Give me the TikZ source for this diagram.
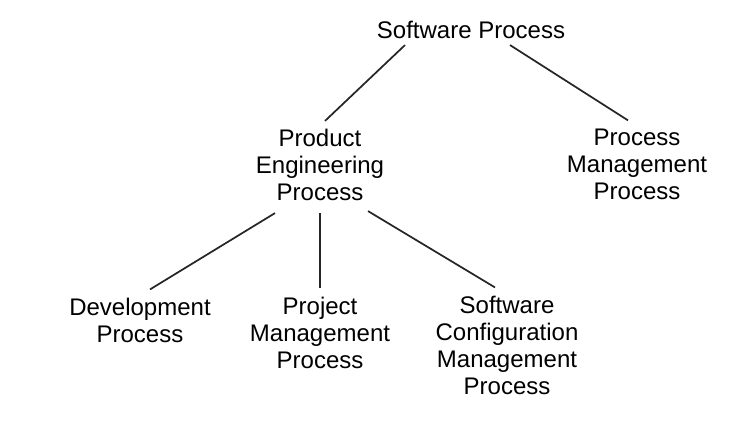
\documentclass[tikz,border=0pt]{standalone}
\usepackage{fontspec}
\setmainfont{Liberation Sans}
\usetikzlibrary{calc}

\begin{document}
\begin{tikzpicture}[x=0.75pt, y=-0.75pt,
    proc/.style={align=center, font=\fontsize{18}{20.25}\selectfont, inner sep=3pt},
    branch/.style={line width=1.3pt, black!85}]
  % Canvas, in pixels of the 748 x 440 page.
  \useasboundingbox (0,0) rectangle (748,440);
  % Root and first level.
  \node[proc] (sp)  at (471,30)  {Software Process};
  \node[proc] (pep) at (320,165) {Product\\Engineering\\Process};
  \node[proc] (pmp) at (637,164) {Process\\Management\\Process};
  % Second level, under product engineering.
  \node[proc] (dev) at (140,320) {Development\\Process};
  \node[proc] (pjm) at (320,333) {Project\\Management\\Process};
  \node[proc] (scm) at (507,345) {Software\\Configuration\\Management\\Process};
  % Branches.
  \draw[branch] ($(sp.south)+(-66,2)$)  -- ($(pep.north)+(5,-4)$);
  \draw[branch] ($(sp.south)+(39,2)$)   -- ($(pmp.north)+(-9,-4)$);
  \draw[branch] ($(pep.south)+(-45,8)$) -- ($(dev.north)+(10,-4)$);
  \draw[branch] ($(pep.south)+(0,8)$)   -- ($(pjm.north)+(0,-5)$);
  \draw[branch] ($(pep.south)+(48,6)$)  -- ($(scm.north)+(-12,-4)$);
\end{tikzpicture}
\end{document}
